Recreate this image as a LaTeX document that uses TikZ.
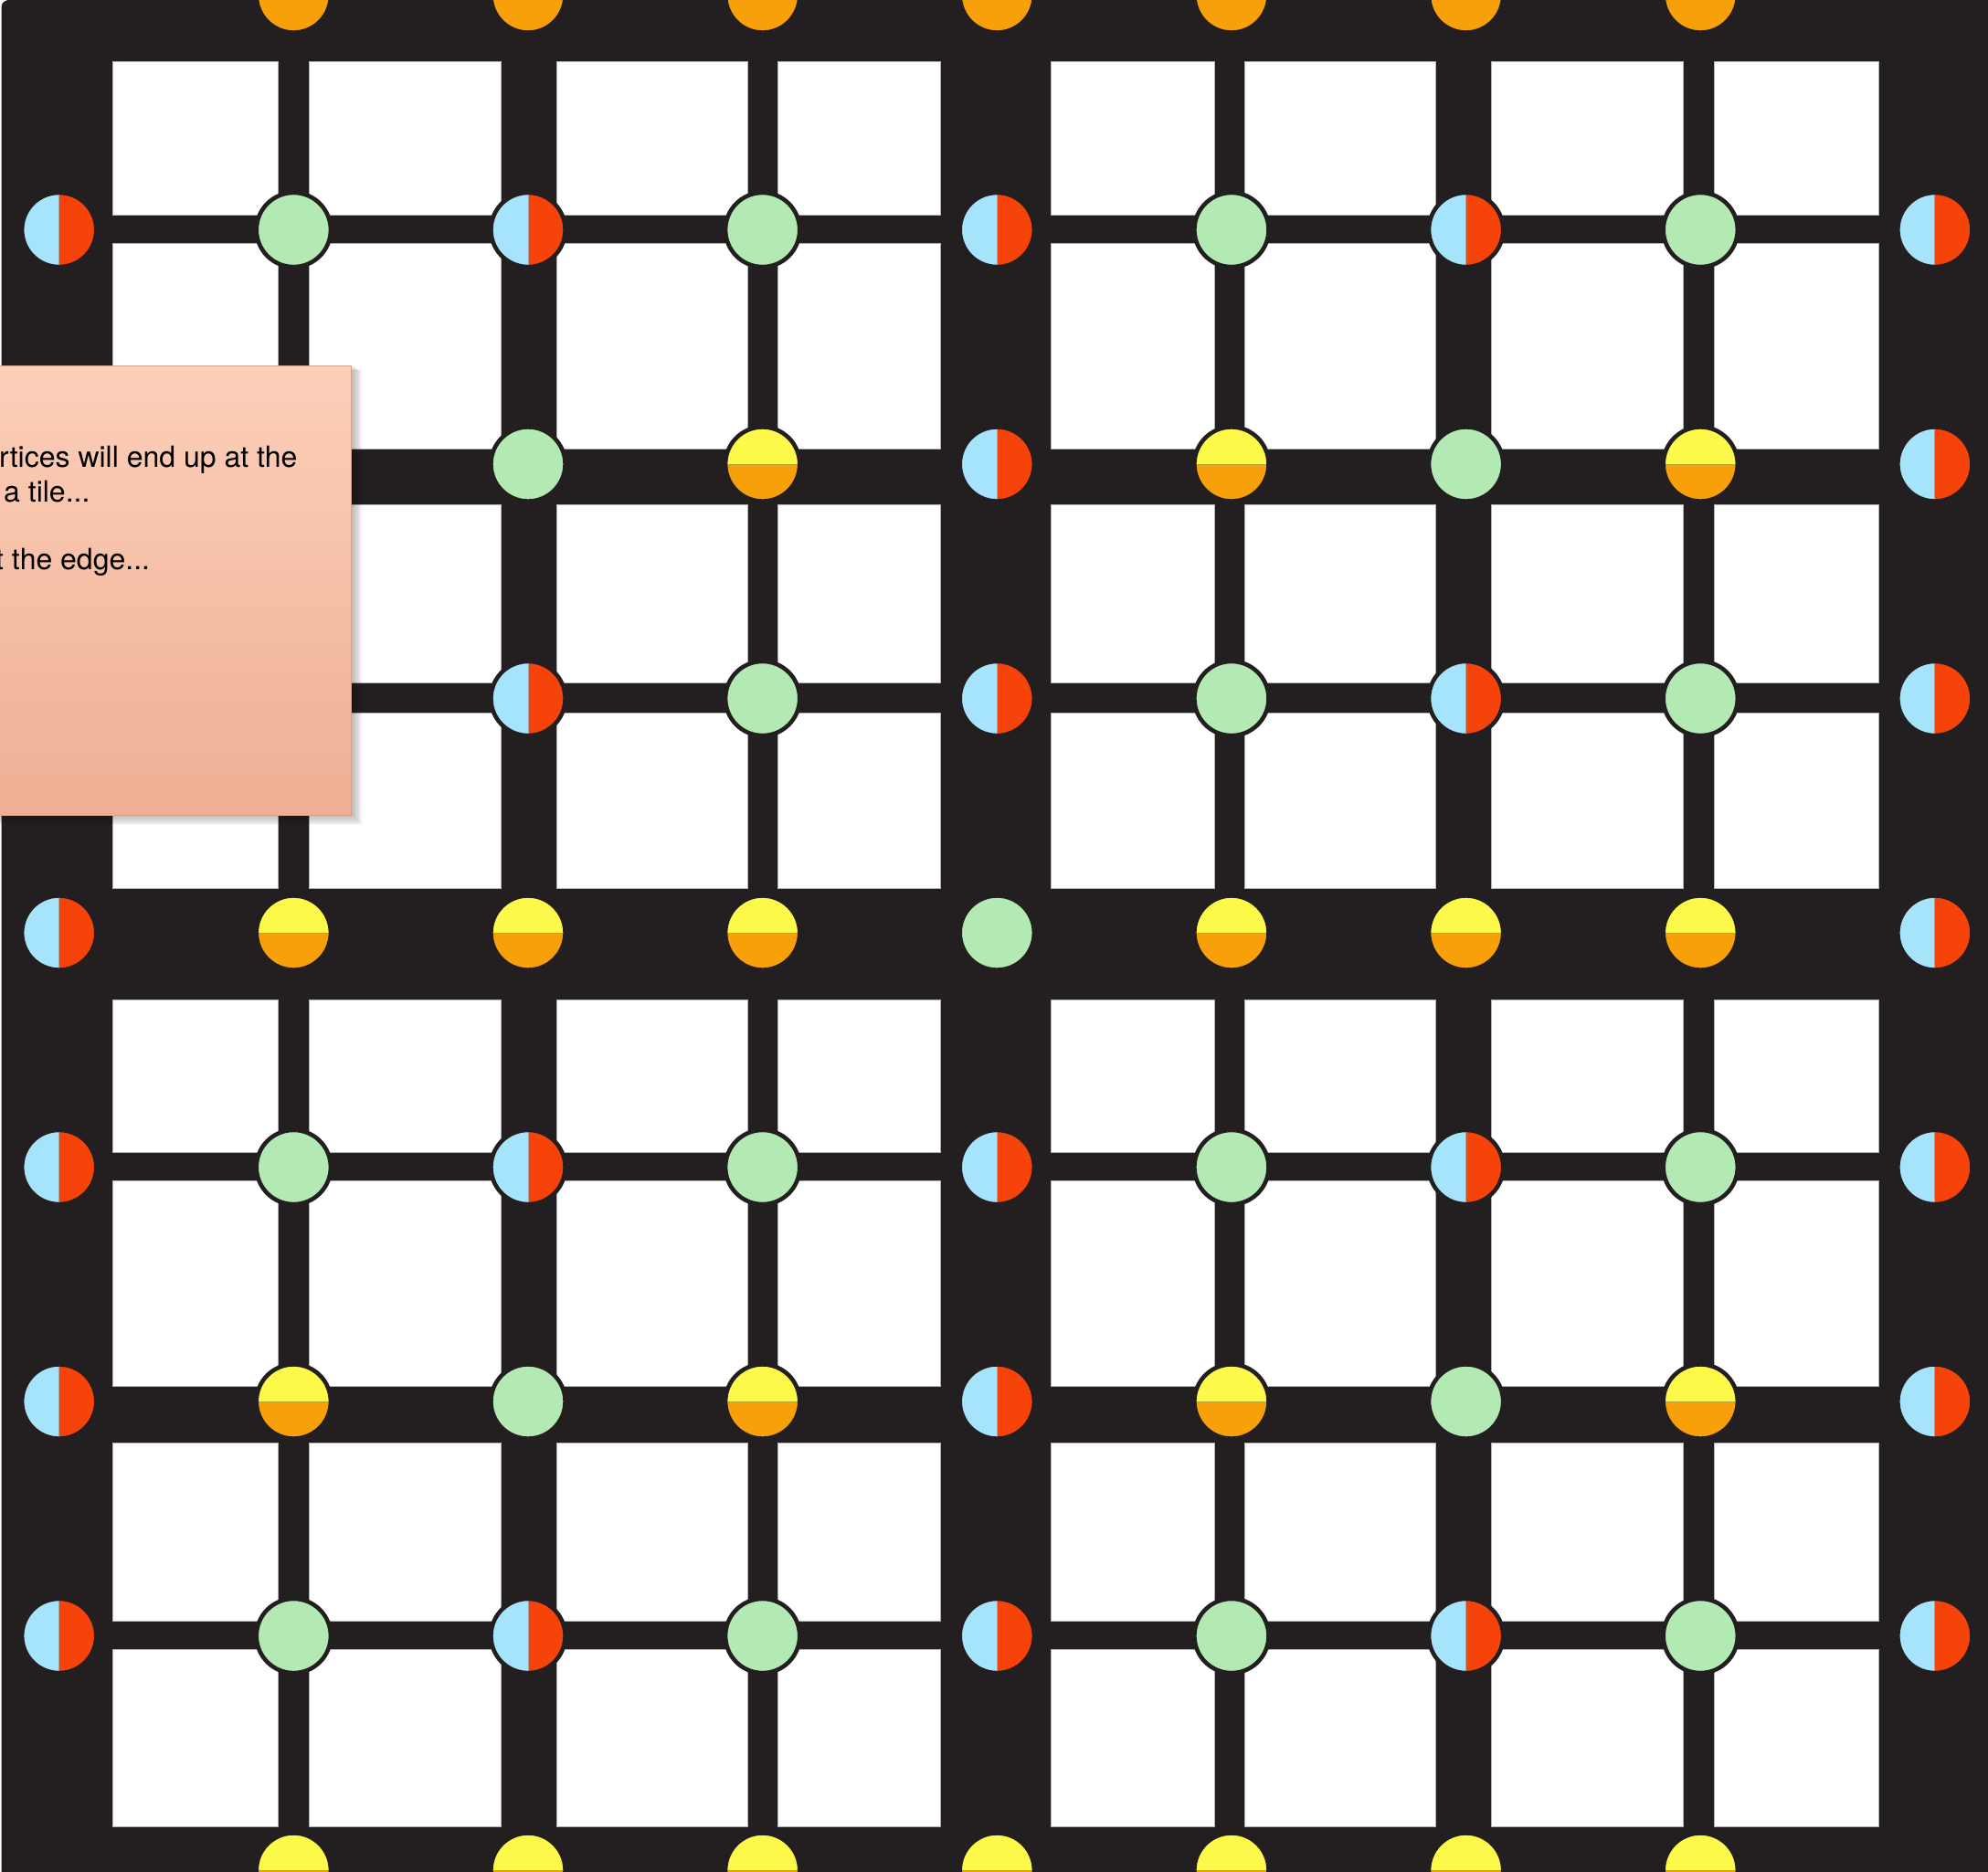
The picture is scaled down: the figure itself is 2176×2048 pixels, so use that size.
\documentclass[tikz,border=0pt]{standalone}
\usepackage{fontspec}
\setmainfont{TeX Gyre Heros}

\definecolor{ink}{HTML}{231F20}
\definecolor{skyb}{HTML}{A6E4FB}
\definecolor{redo}{HTML}{F64309}
\definecolor{mint}{HTML}{B3E9B2}
\definecolor{lemon}{HTML}{FDF94A}
\definecolor{amber}{HTML}{F7A00A}
\definecolor{notetop}{HTML}{FDCFB9}
\definecolor{notebot}{HTML}{EDAF94}
\definecolor{noteedge}{HTML}{D9A28A}

\tikzset{
  cell/.style={fill=white, draw=gray!60, line width=0.8pt},
  vtx/.style={circle, minimum size=81.2pt, inner sep=0pt, outer sep=0pt,
    draw=ink, line width=4.6pt},
  greendot/.style={vtx, fill=mint},
  bluered/.style={vtx, path picture={
    \fill[skyb] (path picture bounding box.south west) rectangle (path picture bounding box.north);
    \fill[redo] (path picture bounding box.south) rectangle (path picture bounding box.north east);
    \draw[gray!70, line width=1pt] (path picture bounding box.south) -- (path picture bounding box.north);}},
  yelloworange/.style={vtx, path picture={
    \fill[lemon] (path picture bounding box.north west) rectangle (path picture bounding box.east);
    \fill[amber] (path picture bounding box.west) rectangle (path picture bounding box.south east);
    \draw[olive!70, line width=1pt] (path picture bounding box.west) -- (path picture bounding box.east);}},
  note/.style={top color=notetop, bottom color=notebot, draw=noteedge, line width=1.2pt},
  notetext/.style={inner sep=0pt, anchor=base west, font=\fontsize{32}{37}\selectfont}
}

\begin{document}
\begin{tikzpicture}[x=1pt, y=-1pt]
  \useasboundingbox (0,0) rectangle (2176,2048);
  \clip (0,0) rectangle (2176,2048);

  % fondo nero
  \fill[ink, rounded corners=8pt] (1.5,0) rectangle (2220,2100);

  % caselle bianche
  \foreach \xa/\xb in {123.7/304.5, 338/548, 609/818, 851.3/1029.7,
                       1150.7/1329.1, 1362.4/1571.4, 1632.4/1842.4, 1875.9/2056.7}
    \foreach \ya/\yb in {67.7/235, 266.7/491.7, 552.7/747.7, 780/972.7,
                         1094/1261, 1292.7/1517.7, 1579.3/1774, 1805.7/1999}
      \fill[cell] (\xa,\ya) rectangle (\xb,\yb);

  % vertici
  \begin{scope}[xshift=64.7pt, yshift=5pt, x=256.65pt, y=-256.5pt]
    % righe sottili
    \foreach \j in {1,3,5,7} {
      \foreach \i in {0,2,4,6,8}
        \node[bluered] (v\i\j) at (\i,\j) {};
      \foreach \i in {1,3,5,7}
        \node[greendot] (v\i\j) at (\i,\j) {};
    }
    % righe spesse
    \foreach \j in {2,6} {
      \foreach \i in {0,4,8}
        \node[bluered] (v\i\j) at (\i,\j) {};
      \foreach \i in {1,3,5,7}
        \node[yelloworange] (v\i\j) at (\i,\j) {};
      \foreach \i in {2,6}
        \node[greendot] (v\i\j) at (\i,\j) {};
    }
    % riga centrale
    \foreach \i in {0,8}
      \node[bluered] (v\i4) at (\i,4) {};
    \foreach \i in {1,2,3,5,6,7}
      \node[yelloworange] (v\i4) at (\i,4) {};
    \node[greendot] (v44) at (4,4) {};
    % bordo sopra e sotto
    \foreach \j in {0,8}
      \foreach \i in {1,...,7}
        \node[yelloworange] (v\i\j) at (\i,\j) {};
  \end{scope}

  % ombra della nota
  \foreach \k in {1,...,9}
    \fill[black, opacity=0.03] (-40,400+0.6*\k) rectangle (385+1.3*\k,891.7+1.3*\k);

  % nota
  \node[note, minimum width=420pt, minimum height=491.7pt, anchor=north east,
        inner sep=0pt] (memo) at (385,400) {};
  \node[notetext] (line1) at (-1,511.7) {rtices will end up at the};
  \node[notetext] (line2) at (4,549) {a tile...};
  \node[notetext] (line3) at (-5,623) {t the edge...};
\end{tikzpicture}
\end{document}
